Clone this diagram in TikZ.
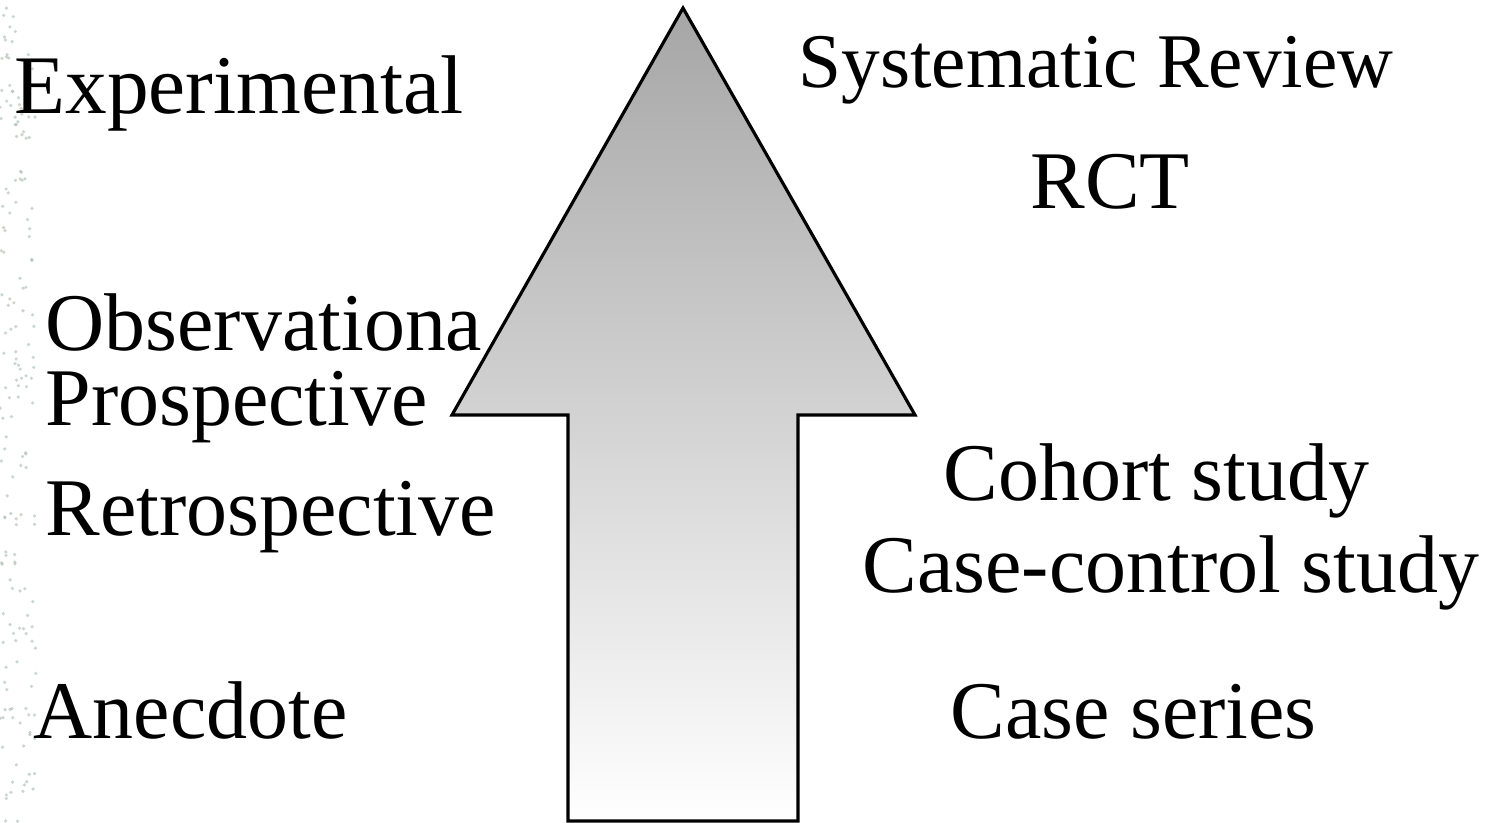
\documentclass[tikz,border=0pt]{standalone}
\usepackage{fontspec}
\setmainfont{Liberation Serif}
\usetikzlibrary{calc}
\definecolor{arrow_gray}{HTML}{A6A6A6}
\definecolor{speck_gray}{HTML}{A9BAAE}

\begin{document}
\begin{tikzpicture}[x=0.1mm,y=-0.1mm,>=stealth]
              \tikzset{study_text/.style={anchor=base west,inner sep=0pt,font=\fontsize{23.3}{28}\selectfont}}
              \useasboundingbox (0,0) rectangle (1503,822);
              % speckled strip on the left edge
              \pgfmathsetseed{7}
              \foreach \i in {1,...,170}
                \fill[speck_gray,opacity=0.6] ({rnd*36},{rnd*822}) circle (1.8);
              % the arrow
              \coordinate (Tip) at (683,8);
              \coordinate (R1) at (915,415);
              \coordinate (R2) at (798,415);
              \coordinate (R3) at (798,821);
              \coordinate (L3) at (568,821);
              \coordinate (L2) at (568,415);
              \coordinate (L1) at (452,415);
              \draw[line width=0.9pt,top color=arrow_gray,bottom color=white] (Tip) -- (R1) -- (R2) -- (R3) -- (L3) -- (L2) -- (L1) -- cycle;
              % left column
              \node[study_text,font=\fontsize{23.7}{28}\selectfont] (exp) at (14,113) {Experimental};
              \node[study_text] (obs) at (45,350) {Observationa};
              \node[study_text] (pro) at (45,425) {Prospective};
              \node[study_text] (ret) at (45,535) {Retrospective};
              \node[study_text] (ane) at (33,738) {Anecdote};
              % right column
              \node[study_text,font=\fontsize{22}{28}\selectfont] (sys) at (798,88) {Systematic Review};
              \node[study_text] (rct) at (1030,208) {RCT};
              \node[study_text] (coh) at (943,500) {Cohort study};
              \node[study_text] (cas) at (862,592) {Case-control study};
              \node[study_text] (ser) at (950,738) {Case series};
          \end{tikzpicture}
\end{document}
